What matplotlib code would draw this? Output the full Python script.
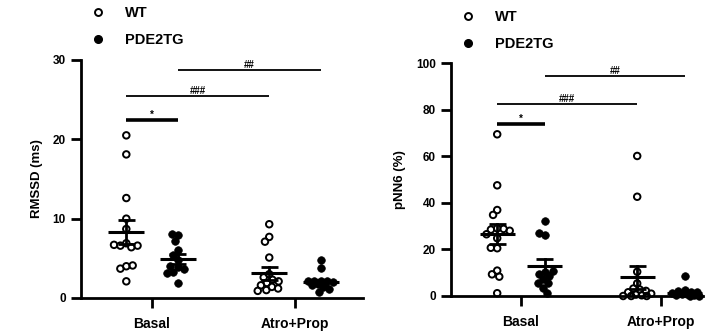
import numpy as np
import matplotlib
matplotlib.use("Agg")
import matplotlib.pyplot as plt
from matplotlib.lines import Line2D

plt.rcParams['font.family'] = ['Liberation Sans', 'DejaVu Sans']
plt.rcParams['font.weight'] = 'bold'

# ---------------- data ----------------
categories = ["Basal", "Atro+Prop"]
series_names = ["WT", "PDE2TG"]

# RMSSD (ms)
rmssd_wt_basal = [20.5, 18.1, 12.6, 10.0, 8.7, 6.9, 6.6, 6.4, 6.6, 6.7, 4.0, 3.7, 4.1, 2.1]
rmssd_tg_basal = [7.9, 7.2, 8.1, 6.0, 5.4, 4.8, 3.9, 3.3, 3.6, 3.1, 4.0, 1.9]
rmssd_wt_atro = [9.3, 7.7, 7.1, 5.1, 3.0, 2.6, 2.3, 2.1, 1.9, 1.6, 1.4, 1.2, 1.0, 0.9]
rmssd_tg_atro = [4.8, 3.8, 2.2, 2.2, 2.1, 2.1, 2.0, 1.8, 1.6, 1.4, 1.1, 0.8]
rmssd_means = [8.3, 4.9, 3.1, 2.0]
rmssd_sems = [1.5, 0.6, 0.85, 0.3]
rmssd_ticks = [0, 10, 20, 30]
rmssd_sig = [(0, 1, 22.4, "*"), (0, 2, 25.4, "###"), (1, 3, 28.8, "##")]

# pNN6 (%)
pnn_wt_basal = [69.4, 47.5, 36.9, 34.8, 29.0, 28.5, 28.8, 28.0, 24.8, 26.5, 20.5, 20.7, 10.9, 9.3, 8.3, 1.2]
pnn_tg_basal = [32.2, 26.2, 26.9, 10.5, 9.3, 8.5, 10.7, 7.3, 5.4, 5.7, 3.6, 1.4]
pnn_wt_atro = [60.1, 42.6, 10.4, 5.4, 3.2, 2.8, 2.2, 1.6, 1.0, 0.6, 0.3, 0.0, 0.0, 0.0]
pnn_tg_atro = [8.6, 2.6, 2.2, 1.9, 1.6, 1.3, 1.0, 0.8, 0.6, 0.4, 0.2, 0.0]
pnn_means = [26.6, 13.0, 8.0, 1.5]
pnn_sems = [4.3, 3.0, 4.9, 0.7]
pnn_ticks = [0, 20, 40, 60, 80, 100]
pnn_sig = [(0, 1, 73.8, "*"), (0, 2, 82.3, "###"), (1, 3, 94.5, "##")]

W, H = 718, 334
fig = plt.figure(figsize=(W / 100, H / 100), dpi=100)


def px_rect(x0, x1, y_bottom, y_top):
    return [x0 / W, 1 - y_bottom / H, (x1 - x0) / W, (y_bottom - y_top) / H]


def swarm_x(ax, values, center, D, maxw):
    """Simple beeswarm in pixel space, limited to +/- maxw pixels."""
    vals = np.asarray(values, float)
    pts = ax.transData.transform(np.column_stack([np.full(len(vals), center), vals]))
    xc = pts[0, 0]
    placed = []
    out = []
    grid = np.linspace(-maxw, maxw, 57)
    for y in pts[:, 1]:
        cands = [0.0]
        for (px, py) in placed:
            dy = y - py
            if abs(dy) < D:
                dx = np.sqrt(D * D - dy * dy)
                cands += [px + dx, px - dx]
        cands = sorted([c for c in cands if abs(c) <= maxw + 1e-9],
                       key=lambda c: (abs(c), c))
        chosen = None
        for c in cands:
            if all((c - px) ** 2 + (y - py) ** 2 >= D * D - 1e-6 for (px, py) in placed):
                chosen = c
                break
        if chosen is None:
            best = None
            for c in grid:
                dmin = min(np.hypot(c - px, y - py) for (px, py) in placed)
                key = (-round(dmin, 3), abs(c))
                if best is None or key < best[0]:
                    best = (key, c)
            chosen = best[1]
        placed.append((chosen, y))
        out.append([xc + chosen, y])
    data = ax.transData.inverted().transform(np.array(out))
    return data[:, 0]


def make_panel(rect, xlim, ylim, yticks, ylabel, groups, means, sems, sig,
               offset, legend_xy):
    ax = fig.add_axes(rect)
    ax.set_xlim(*xlim)
    ax.set_ylim(*ylim)
    for s in ["top", "right"]:
        ax.spines[s].set_visible(False)
    for s in ["left", "bottom"]:
        ax.spines[s].set_linewidth(2.0)
    ax.set_yticks(yticks)
    ax.set_yticklabels([str(t) for t in yticks], fontsize=8.5, fontweight='bold')
    ax.set_xticks([1, 2])
    ax.set_xticklabels(categories, fontsize=10, fontweight='bold')
    ax.tick_params(axis='both', width=2.0, length=7, direction='out')
    ax.tick_params(axis='x', pad=7)
    ax.tick_params(axis='y', pad=4)
    ax.set_ylabel(ylabel, fontsize=9.5, fontweight='bold', labelpad=7)

    positions = [1 - offset, 1 + offset, 2 - offset, 2 + offset]
    filled = [False, True, False, True]
    for vals, pos, f in zip(groups, positions, filled):
        xs = swarm_x(ax, vals, pos, 6.4, 14.0)
        if f:
            ax.scatter(xs, vals, s=30, facecolor='black', edgecolor='black',
                       linewidth=0.5, clip_on=False, zorder=3)
        else:
            ax.scatter(xs, vals, s=22, facecolor='none', edgecolor='black',
                       linewidth=1.4, clip_on=False, zorder=3)
    # mean +/- SEM
    for pos, m, e in zip(positions, means, sems):
        ax.plot([pos - 0.125, pos + 0.125], [m, m], color='black', lw=2.2, zorder=4,
                solid_capstyle='butt')
        ax.plot([pos, pos], [m - e, m + e], color='black', lw=2.0, zorder=4)
        for yy in (m - e, m + e):
            ax.plot([pos - 0.06, pos + 0.06], [yy, yy], color='black', lw=2.0, zorder=4,
                    solid_capstyle='butt')
    # significance bars
    for a, b, y, lab in sig:
        lw = 2.6 if lab == "*" else 1.3
        ax.plot([positions[a], positions[b]], [y, y], color='black', lw=lw,
                clip_on=False, solid_capstyle='butt')
        ax.text((positions[a] + positions[b]) / 2, y, lab, ha='center', va='bottom',
                fontsize=7, fontweight='bold')
    handles = [Line2D([], [], linestyle='none', marker='o', markersize=5,
                      markerfacecolor='none', markeredgecolor='black', markeredgewidth=1.4),
               Line2D([], [], linestyle='none', marker='o', markersize=5.5,
                      markerfacecolor='black', markeredgecolor='black')]
    fig.legend(handles, series_names, loc='upper left',
               bbox_to_anchor=(legend_xy[0] / W, 1 - legend_xy[1] / H),
               bbox_transform=fig.transFigure, frameon=False,
               prop={'weight': 'bold', 'size': 10.5}, handlelength=1.0,
               handletextpad=1.35, labelspacing=0.9, borderpad=0, borderaxespad=0)
    return ax


ax1 = make_panel(px_rect(81, 363, 298, 60), (0.503, 2.476), (0, 30), rmssd_ticks,
                 "RMSSD (ms)",
                 [rmssd_wt_basal, rmssd_tg_basal, rmssd_wt_atro, rmssd_tg_atro],
                 rmssd_means, rmssd_sems, rmssd_sig, 0.18, (91, 6))
ax2 = make_panel(px_rect(451, 703, 296, 63), (0.5, 2.3), (0, 100), pnn_ticks,
                 "pNN6 (%)",
                 [pnn_wt_basal, pnn_tg_basal, pnn_wt_atro, pnn_tg_atro],
                 pnn_means, pnn_sems, pnn_sig, 0.17, (461, 10))

fig.savefig("out.png", dpi=100)
